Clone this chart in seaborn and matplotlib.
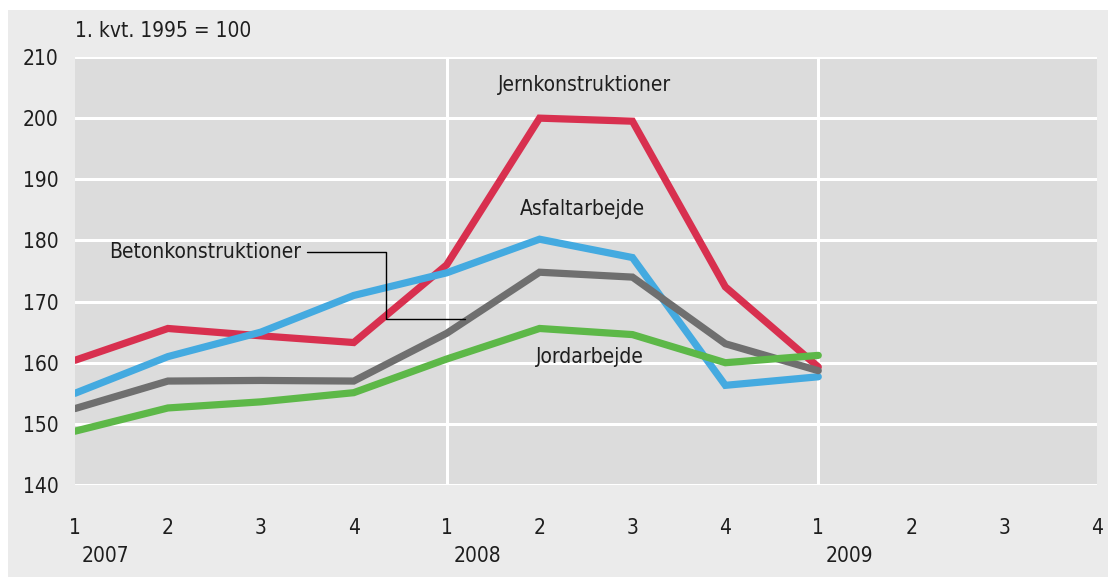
import pandas as pd
import matplotlib.pyplot as plt
import seaborn as sns
from matplotlib.patches import Rectangle

# kvartaler 2007K1 - 2009K4
kvartal_labels = ["1", "2", "3", "4", "1", "2", "3", "4", "1", "2", "3", "4"]
aar_labels = ["2007", "2008", "2009"]

# indeks, 1. kvt. 1995 = 100
jern = [160.4, 165.6, 164.4, 163.3, 176.0, 200.0, 199.5, 172.4, 159.3]
asfalt = [155.0, 161.0, 165.0, 171.0, 174.7, 180.2, 177.2, 156.3, 157.7]
beton = [152.5, 157.0, 157.1, 157.0, 164.8, 174.8, 174.0, 163.1, 158.7]
jord = [148.8, 152.6, 153.6, 155.1, 160.6, 165.6, 164.6, 160.0, 161.2]

serier = {
    "Jernkonstruktioner": jern,
    "Asfaltarbejde": asfalt,
    "Betonkonstruktioner": beton,
    "Jordarbejde": jord,
}
farver = {
    "Jernkonstruktioner": "#d8304f",
    "Asfaltarbejde": "#44aae0",
    "Betonkonstruktioner": "#6f6f6f",
    "Jordarbejde": "#5db848",
}

rows = []
for navn, vals in serier.items():
    for i, v in enumerate(vals):
        rows.append({"t": i, "indeks": v, "serie": navn})
df = pd.DataFrame(rows)

sns.set_style("white", {"axes.facecolor": "#dcdcdc"})
plt.rcParams["font.family"] = ["DejaVu Sans"]
plt.rcParams["font.stretch"] = "condensed"
plt.rcParams["font.size"] = 15

fig = plt.figure(figsize=(11.08, 5.77), dpi=100, facecolor="white")
bg = Rectangle((8 / 1108, 0), 1, 1 - 10 / 577, transform=fig.transFigure,
               facecolor="#ebebeb", edgecolor="none", zorder=-10)
fig.patches.append(bg)
ax = fig.add_axes([75 / 1108, (577 - 485) / 577, (1097 - 75) / 1108, (485 - 57) / 577])

# gitterlinjer
for y in range(140, 211, 10):
    ax.axhline(y, color="white", lw=2.2, zorder=1)
for x in [4, 8]:
    ax.axvline(x, color="white", lw=2.2, zorder=1)

sns.lineplot(data=df, x="t", y="indeks", hue="serie", palette=farver,
             linewidth=5.2, legend=False, ax=ax, zorder=3)
for line in ax.lines[-4:]:
    line.set_solid_joinstyle("miter")

ax.set_xlim(0, 11)
ax.set_ylim(140, 210)
ax.set_xticks(range(12))
ax.set_xticklabels(kvartal_labels)
ax.set_yticks(range(140, 211, 10))
ax.tick_params(axis="both", length=0, labelcolor="#1e1e1e")
ax.tick_params(axis="x", pad=24)
ax.tick_params(axis="y", pad=12)
ax.set_xlabel("")
ax.set_ylabel("")
for s in ax.spines.values():
    s.set_visible(False)

# årstal under kvartalerne
for i, aar in enumerate(aar_labels):
    ax.annotate(aar, xy=(i * 4, 140), xycoords="data", xytext=(5, -51),
                textcoords="offset points", ha="left", va="center", fontsize=15,
                color="#1e1e1e")

ax.text(0, 214.3, "1. kvt. 1995 = 100", ha="left", va="center", fontsize=15,
        color="#1e1e1e", clip_on=False)

# serienavne
ax.text(5.48, 205.4, "Jernkonstruktioner", ha="center", va="center", fontsize=15, color="#1e1e1e")
ax.text(5.46, 185.2, "Asfaltarbejde", ha="center", va="center", fontsize=15, color="#1e1e1e")
ax.text(5.54, 160.9, "Jordarbejde", ha="center", va="center", fontsize=15, color="#1e1e1e")
ax.text(0.37, 178.1, "Betonkonstruktioner", ha="left", va="center", fontsize=15, color="#1e1e1e")
ax.plot([2.5, 3.35, 3.35, 4.2], [178.1, 178.1, 167.1, 167.1], color="black", lw=1, zorder=4)

fig.savefig("out.png", dpi=100, facecolor=fig.get_facecolor())
